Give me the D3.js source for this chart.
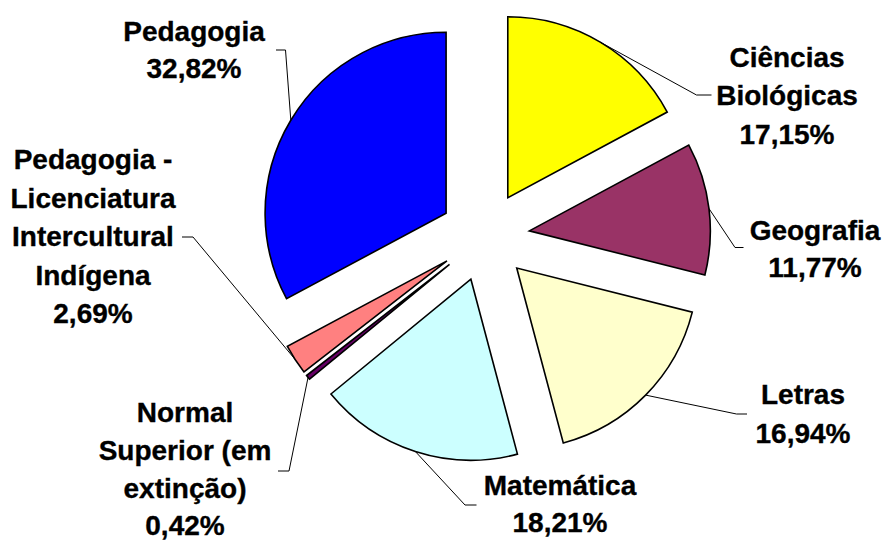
<!DOCTYPE html>
<html>
<head>
<meta charset="utf-8">
<script src="https://cdn.jsdelivr.net/npm/d3@7"></script>
<style>
  html, body { margin: 0; padding: 0; background: #fff; }
  svg { display: block; }
  text { font-family: "Liberation Sans", Arial, sans-serif; font-weight: bold; font-size: 28px; fill: #000; stroke: #000; stroke-width: 0.35px; }
</style>
</head>
<body>
<svg id="chart" width="888" height="541"></svg>
<script>
// ---- data ----
const categories = [
  ["Ciências", "Biológicas"],
  ["Geografia"],
  ["Letras"],
  ["Matemática"],
  ["Normal", "Superior (em", "extinção)"],
  ["Pedagogia -", "Licenciatura", "Intercultural", "Indígena"],
  ["Pedagogia"]
];
const values = [17.15, 11.77, 16.94, 18.21, 0.42, 2.69, 32.82];
const colors = ["#FFFF00", "#993366", "#FFFFCC", "#CCFFFF", "#660066", "#FF8080", "#0000FF"];

// ---- layout (label placement) ----
const labelLayout = [
  { cx: 787, y0: 66.5, gap: 38.5, end: [711.5, 95],  elbow: [696.5, 95] },
  { cx: 815, y0: 239.5, gap: 37, end: [743.5, 247.5], elbow: [735, 247.5] },
  { cx: 803, y0: 404, gap: 38.5, end: [747, 414], elbow: [736.5, 414] },
  { cx: 560, y0: 495, gap: 37, end: [476.5, 505], elbow: [465, 505] },
  { cx: 185, y0: 422, gap: 37.8, end: [278, 471], elbow: [289, 471] },
  { cx: 93,  y0: 169, gap: 38.5, end: [182, 237], elbow: [193, 237] },
  { cx: 194, y0: 40.5, gap: 37.8, end: [276, 50], elbow: [285.5, 50] }
];

const cx = 484.7, cy = 236.4, R = 181, explode = 45;

const locale = d3.formatLocale({ decimal: ",", thousands: ".", grouping: [3] });
const fmt = v => locale.format(".2f")(v) + "%";

const svg = d3.select("#chart");
const g = svg.append("g").attr("transform", `translate(${cx},${cy})`);

const pie = d3.pie().sort(null).value(d => d).startAngle(0).endAngle(2 * Math.PI);
const arcs = pie(values);
const arc = d3.arc().innerRadius(0).outerRadius(R);

function offset(d) {
  const a = (d.startAngle + d.endAngle) / 2;
  return [explode * Math.sin(a), -explode * Math.cos(a)];
}
function outerMid(d) {
  const a = (d.startAngle + d.endAngle) / 2;
  const o = offset(d);
  return [o[0] + R * Math.sin(a), o[1] - R * Math.cos(a)];
}

// leader lines (drawn under slices)
const leaders = svg.append("g");
arcs.forEach((d, i) => {
  const m = outerMid(d);
  const L = labelLayout[i];
  leaders.append("polyline")
    .attr("points", [L.end, L.elbow, [m[0] + cx, m[1] + cy]].map(p => p.join(",")).join(" "))
    .attr("fill", "none")
    .attr("stroke", "#000")
    .attr("stroke-width", 1);
});

// slices
g.selectAll("path.slice")
  .data(arcs)
  .join("path")
  .attr("class", "slice")
  .attr("d", arc)
  .attr("transform", d => `translate(${offset(d)[0]},${offset(d)[1]})`)
  .attr("fill", (d, i) => colors[i])
  .attr("stroke", "#000")
  .attr("stroke-width", 1.6)
  .attr("stroke-linejoin", "miter");

// labels
arcs.forEach((d, i) => {
  const L = labelLayout[i];
  const lines = categories[i].concat([fmt(values[i])]);
  const t = svg.append("text").attr("text-anchor", "middle");
  lines.forEach((s, k) => {
    t.append("tspan").attr("x", L.cx).attr("y", L.y0 + k * L.gap).text(s);
  });
});
</script>
</body>
</html>
